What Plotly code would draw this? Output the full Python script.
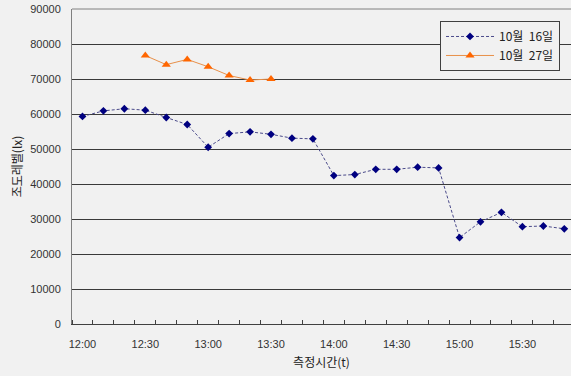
import plotly.graph_objects as go

# Measurement times (10-minute intervals)
times = ["12:00", "12:10", "12:20", "12:30", "12:40", "12:50",
         "13:00", "13:10", "13:20", "13:30", "13:40", "13:50",
         "14:00", "14:10", "14:20", "14:30", "14:40", "14:50",
         "15:00", "15:10", "15:20", "15:30", "15:40", "15:50"]

# Illuminance (lx), October 16
oct16 = [59300, 60900, 61500, 61100, 59000, 57000,
         50500, 54400, 54900, 54200, 53100, 52900,
         42400, 42700, 44200, 44200, 44800, 44600,
         24700, 29200, 31900, 27800, 28000, 27200]

# Illuminance (lx), October 27 (12:30 - 13:30)
oct27_times = ["12:30", "12:40", "12:50", "13:00", "13:10", "13:20", "13:30"]
oct27 = [76700, 74100, 75600, 73500, 71000, 69700, 70000]

tick_labels = ["12:00", "12:30", "13:00", "13:30", "14:00", "14:30", "15:00", "15:30"]

idx = {t: i for i, t in enumerate(times)}

BG = "#f1f1f1"
KR = "Noto Sans CJK KR, sans-serif"
NUM = "Liberation Sans, Arial, sans-serif"

fig = go.Figure()
fig.add_trace(go.Scatter(
    x=[idx[t] for t in times], y=oct16, name="10월  16일",
    mode="lines+markers",
    line=dict(color="#4a4a8a", width=1, dash="3px,2px"),
    marker=dict(symbol="diamond", size=6, color="#000080"),
))
fig.add_trace(go.Scatter(
    x=[idx[t] for t in oct27_times], y=oct27, name="10월  27일",
    mode="lines+markers",
    line=dict(color="#e8904a", width=1),
    marker=dict(symbol="triangle-up", size=8, color="#ff6600"),
))

fig.update_layout(
    width=571, height=376,
    margin=dict(l=72, r=0, t=9, b=52),
    paper_bgcolor=BG, plot_bgcolor=BG,
    font=dict(family=KR, size=11, color="#333333"),
    showlegend=True,
    legend=dict(
        x=0.978, xanchor="right", y=0.962, yanchor="top",
        bgcolor=BG, bordercolor="#404040", borderwidth=1,
        font=dict(family=KR, size=12, color="#222222"),
        itemwidth=48, tracegroupgap=2,
    ),
    xaxis=dict(
        range=[-0.5, 23.32],
        tickmode="array",
        tickvals=[idx[t] for t in tick_labels],
        ticktext=tick_labels,
        ticks="", showgrid=False,
        showline=True, linecolor="#404040", linewidth=1,
        zeroline=False,
        ticklabelstandoff=10,
        minor=dict(tick0=-0.5, dtick=1, ticks="inside", ticklen=4,
                   tickcolor="#404040", showgrid=False),
        tickfont=dict(family=NUM, size=11, color="#333333"),
        title=dict(text="측정시간(t)", font=dict(family=KR, size=12, color="#222222"),
                   standoff=9),
    ),
    yaxis=dict(
        range=[0, 90000], dtick=10000, tickformat="d",
        showgrid=True, gridcolor="#3a3a3a", gridwidth=1,
        showline=True, linecolor="#808080", linewidth=1,
        zeroline=False,
        ticks="",
        ticklabelstandoff=8,
        tickfont=dict(family=NUM, size=11, color="#333333"),
        title=dict(text="조도레벨(lx)", font=dict(family=KR, size=12, color="#222222"),
                   standoff=5),
    ),
)

# Top border of the plot area
fig.add_shape(type="line", xref="paper", yref="paper", x0=0, x1=1, y0=1, y1=1,
              line=dict(color="#808080", width=1))

fig.write_html("out.html")
